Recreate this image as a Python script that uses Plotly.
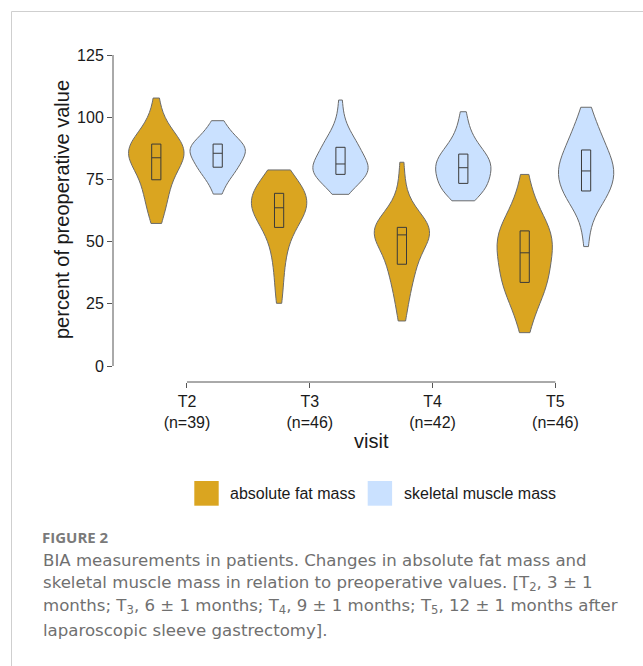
import numpy as np
import plotly.graph_objects as go

# ---------------- data ----------------
visits = ["T2", "T3", "T4", "T5"]
n_patients = [39, 46, 42, 46]
series_names = ["absolute fat mass", "skeletal muscle mass"]

# percent of preoperative value, absolute fat mass
fat_t2 = [57.3, 60, 62.5, 64.5, 66.5, 68, 70, 71.5, 73, 74.2,
          75.5, 77, 78.5, 79.5, 80.5, 81.5, 82.3, 83, 83.5, 83.7,
          84.3, 85, 85.6, 86.2, 86.8, 87.3, 87.8, 88.3, 88.8,
          89.6, 90.3, 91, 92, 93, 94.5, 96, 98, 102, 107.7]
fat_t3 = [25.2, 30, 34, 38, 41.5, 44, 46.5, 48.5, 50.5, 52.3, 54, 55.5,
          56.3, 57.2, 58, 58.8, 59.6, 60.3, 61, 61.7, 62.3, 62.9, 63.4,
          63.8, 64.3, 64.8, 65.3, 65.8, 66.3, 66.8, 67.3, 67.8, 68.4, 69.1,
          69.5, 70.1, 70.7, 71.4, 72.1, 72.9, 73.7, 74.5, 75.4, 76.4, 77.5, 78.8]
fat_t4 = [18.1, 22, 25.5, 28.5, 31, 33, 35, 36.8, 38.3, 39.6, 40.6,
          41.8, 43, 44.5, 46, 47.5, 48.8, 49.9, 50.8, 51.6, 52.4,
          53.0, 53.3, 53.6, 53.9, 54.2, 54.5, 54.8, 55.1, 55.3, 55.5,
          55.8, 56.5, 57.3, 58.2, 59.2, 60.3, 61.8, 64, 68, 74, 81.9]
fat_t5 = [13.4, 17.5, 20.5, 23, 25, 26.8, 28.4, 29.8, 31, 32, 32.9, 33.4,
          34.2, 35.3, 36.4, 37.5, 38.6, 39.7, 40.8, 41.9, 43, 44.1, 45.1,
          45.9, 46.7, 47.5, 48.3, 49.1, 49.9, 50.7, 51.5, 52.3, 53.1, 54.0,
          54.4, 55.4, 56.4, 57.5, 58.7, 60, 61.5, 63.2, 65.2, 68, 72, 77.0]

# percent of preoperative value, skeletal muscle mass
muscle_t2 = [69.1, 71.5, 73.5, 75, 76.2, 77.2, 78, 78.7, 79.2, 79.6,
             80.2, 80.9, 81.6, 82.3, 83, 83.6, 84.2, 84.7, 85.1, 85.5,
             85.9, 86.3, 86.8, 87.2, 87.6, 88, 88.4, 88.7, 89.0,
             89.4, 90, 90.7, 91.5, 92.3, 93.2, 94.3, 95.5, 97, 98.6]
muscle_t3 = [69.0, 70.5, 71.6, 72.5, 73.3, 74, 74.6, 75.1, 75.6, 76.1, 76.5, 76.9,
             77.4, 77.8, 78.2, 78.6, 79, 79.4, 79.8, 80.2, 80.5, 80.8, 81.0,
             81.4, 81.9, 82.5, 83.1, 83.7, 84.3, 84.9, 85.5, 86.2, 86.9, 87.6,
             88.0, 88.6, 89.3, 90, 90.8, 91.7, 92.7, 94, 95.5, 97.5, 101, 106.9]
muscle_t4 = [66.4, 67.5, 68.5, 69.3, 70, 70.6, 71.2, 71.8, 72.3, 72.8, 73.2,
             74.0, 74.7, 75.4, 76.1, 76.8, 77.4, 78, 78.6, 79.1, 79.5,
             79.9, 80.4, 80.9, 81.4, 81.9, 82.4, 83, 83.6, 84.2, 84.8,
             85.3, 86, 86.8, 87.7, 88.7, 89.8, 91.2, 92.8, 95, 98, 102.2]
muscle_t5 = [48.0, 55, 59.5, 62.5, 64.5, 65.8, 66.8, 67.6, 68.3, 69, 69.6, 70.1,
             71.1, 72, 72.9, 73.8, 74.6, 75.3, 76, 76.6, 77.2, 77.7, 78.1,
             78.7, 79.3, 79.9, 80.6, 81.3, 82, 82.8, 83.6, 84.4, 85.2, 86.3,
             87.0, 88, 89, 90, 91.1, 92.3, 93.6, 95, 96.6, 98.5, 101, 104.0]

y_ticks = [0, 25, 50, 75, 100, 125]

# ---------------- styling ----------------
FAT_COLOR = "#DAA520"
MUSCLE_COLOR = "#CAE1FF"
OUTLINE = "#6b6b6b"
AXIS_COLOR = "#555555"
TEXT_COLOR = "#1a1a1a"
CHART_FONT = "Liberation Sans, Arial, sans-serif"
CAPTION_FONT = "DejaVu Sans, sans-serif"
HEAD_FONT = "Open Sans, sans-serif"

W, H = 643, 666
ML, MR, MT, MB = 113, 13, 40, 284
PW, PH = W - ML - MR, H - MT - MB


def px_x(px):
    return (px - ML) / PW


def px_y(py):
    return (H - MB - py) / PH


fig = go.Figure()

groups = [(fat_t2, muscle_t2), (fat_t3, muscle_t3), (fat_t4, muscle_t4), (fat_t5, muscle_t5)]
colors = [FAT_COLOR, MUSCLE_COLOR]

for gi, pair in enumerate(groups):
    for si, vals in enumerate(pair):
        pos = 2 * gi + 1 + si
        arr = np.asarray(vals, dtype=float)
        bw = 1.059 * arr.std(ddof=1) * len(arr) ** (-0.2)
        fig.add_trace(go.Violin(
            x0=pos, y=vals, name=series_names[si],
            width=0.9, scalemode="width", spanmode="hard", bandwidth=bw,
            points=False, box_visible=False, meanline_visible=False,
            fillcolor=colors[si], opacity=1,
            line=dict(color=OUTLINE, width=1),
            showlegend=False, hoverinfo="skip",
        ))
        q1, med, q3 = np.percentile(arr, [25, 50, 75])
        fig.add_trace(go.Box(
            x=[pos], q1=[q1], median=[med], q3=[q3],
            lowerfence=[q1], upperfence=[q3],
            width=0.15, fillcolor="rgba(0,0,0,0)",
            line=dict(color="#3a3a3a", width=1),
            whiskerwidth=0, showlegend=False, hoverinfo="skip",
        ))

tick_pos = [2 * i + 1.5 for i in range(len(visits))]
tick_text = [f"{v}<br>(n={n})" for v, n in zip(visits, n_patients)]

shapes = [
    # y axis line spanning tick range
    dict(type="line", xref="paper", yref="y", x0=0, x1=0, y0=y_ticks[0], y1=y_ticks[-1],
         line=dict(color=AXIS_COLOR, width=1)),
    # x axis line spanning tick range
    dict(type="line", xref="x", yref="paper", x0=tick_pos[0], x1=tick_pos[-1], y0=0, y1=0,
         line=dict(color=AXIS_COLOR, width=1)),
    # figure frame (top and left rule)
    dict(type="line", xref="paper", yref="paper", x0=px_x(11.5), x1=px_x(643), y0=px_y(11.5), y1=px_y(11.5),
         line=dict(color="#cfcfcf", width=1)),
    dict(type="line", xref="paper", yref="paper", x0=px_x(11.5), x1=px_x(11.5), y0=px_y(11.5), y1=px_y(666),
         line=dict(color="#cfcfcf", width=1)),
    # legend keys
    dict(type="rect", xref="paper", yref="paper", x0=px_x(194.3), x1=px_x(218.7), y0=px_y(505.7), y1=px_y(481),
         fillcolor=FAT_COLOR, line=dict(width=0)),
    dict(type="rect", xref="paper", yref="paper", x0=px_x(367.7), x1=px_x(392.1), y0=px_y(505.7), y1=px_y(481),
         fillcolor=MUSCLE_COLOR, line=dict(width=0)),
]

annotations = [
    dict(text="percent of preoperative value", xref="paper", yref="paper", x=px_x(62), y=px_y(210),
         textangle=-90, showarrow=False, font=dict(size=20, color=TEXT_COLOR, family=CHART_FONT),
         xanchor="center", yanchor="middle"),
    dict(text="visit", xref="paper", yref="paper", x=px_x(371), y=px_y(441),
         showarrow=False, font=dict(size=20, color=TEXT_COLOR, family=CHART_FONT),
         xanchor="center", yanchor="middle"),
    dict(text=series_names[0], xref="paper", yref="paper", x=px_x(228), y=px_y(493.5),
         showarrow=False, font=dict(size=16, color=TEXT_COLOR, family=CHART_FONT),
         xanchor="left", yanchor="middle"),
    dict(text=series_names[1], xref="paper", yref="paper", x=px_x(402), y=px_y(493.5),
         showarrow=False, font=dict(size=16, color=TEXT_COLOR, family=CHART_FONT),
         xanchor="left", yanchor="middle"),
    dict(text="<b>FIGURE 2</b>", xref="paper", yref="paper", x=px_x(40), y=px_y(537),
         showarrow=False, font=dict(size=15, color="#7a7a7a", family=HEAD_FONT),
         xanchor="left", yanchor="middle"),
]

caption_lines = [
    "BIA measurements in patients. Changes in absolute fat mass and",
    "skeletal muscle mass in relation to preoperative values. [T<sub>2</sub>, 3 \u00b1 1",
    "months; T<sub>3</sub>, 6 \u00b1 1 months; T<sub>4</sub>, 9 \u00b1 1 months; T<sub>5</sub>, 12 \u00b1 1 months after",
    "laparoscopic sleeve gastrectomy].",
]
for i, line in enumerate(caption_lines):
    annotations.append(dict(
        text=line, xref="paper", yref="paper", x=px_x(41), y=px_y(560 + 23.4 * i),
        showarrow=False, font=dict(size=16.6, color="#707070", family=CAPTION_FONT),
        xanchor="left", yanchor="middle"))

fig.update_layout(
    width=W, height=H,
    margin=dict(l=ML, r=MR, t=MT, b=MB, pad=0),
    paper_bgcolor="white", plot_bgcolor="white",
    violinmode="overlay", boxmode="overlay",
    showlegend=False,
    font=dict(family=CHART_FONT, color=TEXT_COLOR),
    xaxis=dict(range=[0.295, 8.715], tickvals=tick_pos, ticktext=tick_text,
               ticks="outside", ticklen=5, tickcolor=AXIS_COLOR, tickwidth=1,
               showline=False, showgrid=False, zeroline=False,
               tickfont=dict(size=16, color=TEXT_COLOR, family=CHART_FONT)),
    yaxis=dict(range=[-6.43, 131.03], tickvals=y_ticks,
               ticks="outside", ticklen=5, tickcolor=AXIS_COLOR, tickwidth=1,
               showline=False, showgrid=False, zeroline=False,
               tickfont=dict(size=16, color=TEXT_COLOR, family=CHART_FONT)),
    shapes=shapes,
    annotations=annotations,
)

fig.write_html("out.html", config={"displayModeBar": False},
               post_script="document.body.style.margin='0';document.body.style.padding='0';")
